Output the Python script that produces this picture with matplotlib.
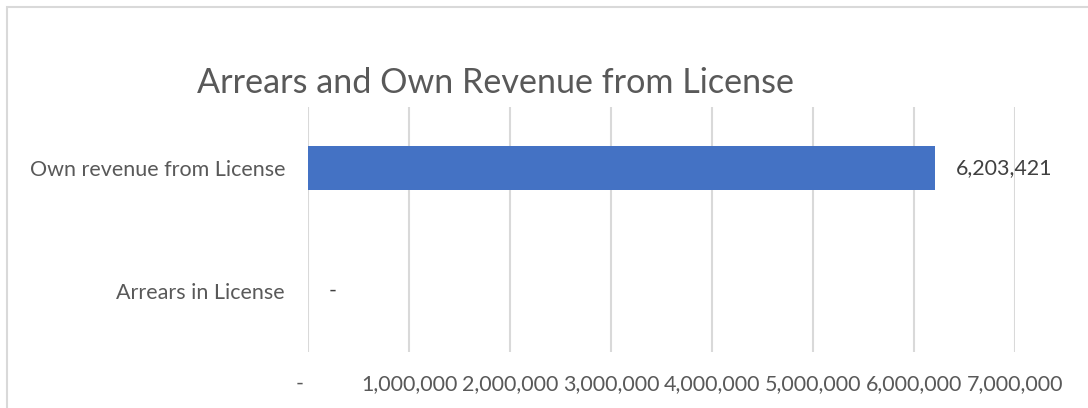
import matplotlib
matplotlib.use("Agg")
import matplotlib.pyplot as plt
from matplotlib.patches import Rectangle
from matplotlib.ticker import FuncFormatter

categories = ["Arrears in License", "Own revenue from License"]
values = [0, 6203421]
x_ticks = [0, 1000000, 2000000, 3000000, 4000000, 5000000, 6000000, 7000000]

FONT = "Lato"
plt.rcParams['font.family'] = [FONT, 'DejaVu Sans']

fig = plt.figure(figsize=(10.88, 4.08), dpi=100)
ax = fig.add_axes([308/1088, 56/408, 707/1088, 245/408])

# chart border
fig.patches.append(Rectangle((7/1088, -0.1), 1.2, (408-7)/408 + 0.1, transform=fig.transFigure,
                             fill=False, edgecolor='#d9d9d9', linewidth=1.5, zorder=0))

y = list(range(len(categories)))
ax.barh(y, values, height=0.36, color='#4472c4', zorder=3)

def fmt(v):
    return "-" if v == 0 else f"{v:,.0f}"

for yi, v in zip(y, values):
    ax.annotate(fmt(v), xy=(v, yi), xytext=(21, 0), textcoords='offset pixels',
                ha='left', va='center', fontsize=15.4, color='#404040')

ax.set_xlim(0, 7000000)
ax.set_ylim(-0.5, 1.5)
ax.set_xticks(x_ticks)
ax.xaxis.set_major_formatter(FuncFormatter(lambda v, p: "-   " if v == 0 else f"{v:,.0f}"))
ax.set_yticks(y)
ax.set_yticklabels(categories)
ax.tick_params(axis='both', length=0, labelsize=15.5, labelcolor='#595959')
ax.tick_params(axis='x', pad=16)
ax.tick_params(axis='y', pad=16.5)
ax.grid(axis='x', color='#d9d9d9', linewidth=1.5, zorder=0)
ax.set_axisbelow(True)
for s in ax.spines.values():
    s.set_visible(False)

fig.text(495.5/1088, 1 - 83/408, "Arrears and Own Revenue from License", ha='center', va='center',
         fontsize=24.6, color='#595959')

fig.savefig("out.png", dpi=100)
